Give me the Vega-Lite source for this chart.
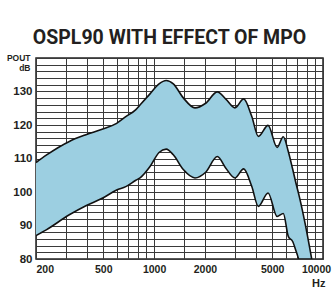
{
  "$schema": "https://vega.github.io/schema/vega-lite/v6.json",
  "width": 287,
  "height": 201,
  "autosize": "none",
  "padding": {"left": 36, "top": 58, "right": 11, "bottom": 32},
  "background": "white",
  "title": {
    "text": "OSPL90 WITH EFFECT OF MPO",
    "font": "Roboto",
    "fontSize": 19.5,
    "fontWeight": "bold",
    "color": "#231f20",
    "anchor": "middle",
    "dx": -10,
    "offset": 19,
    "dy": 29,
    "baseline": "alphabetic"
  },
  "config": {
    "view": {"stroke": "#222", "strokeWidth": 1.5},
    "axis": {
      "labelFont": "Liberation Sans",
      "labelFontWeight": "bold",
      "labelFontSize": 11,
      "labelColor": "#231f20",
      "titleFont": "Liberation Sans",
      "titleFontWeight": "bold",
      "titleColor": "#231f20",
      "ticks": false,
      "domain": false,
      "grid": true,
      "gridColor": "#3a3a3a",
      "gridOpacity": 1,
      "gridWidth": 1
    }
  },
  "data": {
    "values": [
      {"f": 200, "hi": 108.8, "lo": 87.0},
      {"f": 230, "hi": 111.0, "lo": 88.7},
      {"f": 315, "hi": 115.1, "lo": 93.2},
      {"f": 395, "hi": 117.1, "lo": 95.9},
      {"f": 497, "hi": 118.8, "lo": 98.2},
      {"f": 600, "hi": 120.5, "lo": 100.6},
      {"f": 680, "hi": 122.5, "lo": 101.6},
      {"f": 780, "hi": 124.6, "lo": 103.5},
      {"f": 830, "hi": 126.1, "lo": 104.3},
      {"f": 946, "hi": 129.3, "lo": 107.6},
      {"f": 1070, "hi": 132.3, "lo": 111.8},
      {"f": 1180, "hi": 133.3, "lo": 112.8},
      {"f": 1300, "hi": 132.3, "lo": 111.1},
      {"f": 1490, "hi": 128.1, "lo": 106.7},
      {"f": 1746, "hi": 125.1, "lo": 104.2},
      {"f": 2020, "hi": 126.5, "lo": 105.9},
      {"f": 2369, "hi": 129.9, "lo": 110.6},
      {"f": 2660, "hi": 127.7, "lo": 107.1},
      {"f": 3013, "hi": 125.1, "lo": 104.2},
      {"f": 3390, "hi": 127.8, "lo": 106.9},
      {"f": 3785, "hi": 122.6, "lo": 101.7},
      {"f": 4142, "hi": 116.6, "lo": 95.7},
      {"f": 4730, "hi": 119.9, "lo": 99.7},
      {"f": 5350, "hi": 113.3, "lo": 92.7},
      {"f": 5820, "hi": 116.5, "lo": 93.6},
      {"f": 6237, "hi": 112.0, "lo": 86.7},
      {"f": 6600, "hi": 107.0, "lo": 85.3},
      {"f": 6990, "hi": 101.7, "lo": 81.8},
      {"f": 7212, "hi": 99.0, "lo": 80},
      {"f": 7828, "hi": 90.7, "lo": 80},
      {"f": 8576, "hi": 80, "lo": 80}
    ]
  },
  "encoding": {
    "x": {
      "field": "f",
      "type": "quantitative",
      "scale": {"type": "log", "domain": [200, 10000], "nice": false},
      "axis": {
        "values": [200, 300, 400, 500, 600, 700, 800, 900, 1000, 1500, 2000, 3000, 4000, 5000, 6000, 7000, 8000, 9000, 10000],
        "format": "d",
        "labelExpr": "indexof([200,500,1000,2000,5000,10000], datum.value) >= 0 ? datum.label : ''",
        "labelAlign": {"expr": "datum.value == 200 ? 'left' : 'center'"},
        "labelOffset": {"expr": "datum.value == 10000 ? -7 : 0"},
        "labelPadding": 5,
        "labelFontSize": 10.5,
        "title": "Hz",
        "titleFontSize": 11,
        "titleAlign": "right",
        "titleBaseline": "alphabetic",
        "titleAnchor": "start",
        "titleX": 289,
        "titleY": 27
      }
    },
    "y": {
      "field": "hi",
      "type": "quantitative",
      "scale": {"domain": [80, 140], "nice": false, "zero": false},
      "axis": {
        "values": [80, 82, 84, 86, 88, 90, 92, 94, 96, 98, 100, 102, 104, 106, 108, 110, 112, 114, 116, 118, 120, 122, 124, 126, 128, 130, 132, 134, 136, 138, 140],
        "labelExpr": "datum.value % 10 == 0 && datum.value < 140 ? datum.label : ''",
        "labelPadding": 4,
        "labelFontSize": 11.5,
        "title": ["POUT", "dB"],
        "titleFontSize": 8.5,
        "titleAngle": 0,
        "titleAlign": "right",
        "titleBaseline": "alphabetic",
        "titleLineHeight": 10,
        "titleX": -6,
        "titleY": 2
      }
    }
  },
  "layer": [
    {
      "mark": {"type": "area", "interpolate": "monotone", "color": "#9ccfe1", "opacity": 1, "clip": true},
      "encoding": {"y2": {"field": "lo"}}
    },
    {
      "mark": {"type": "line", "interpolate": "monotone", "color": "#111", "strokeWidth": 1.6, "clip": true},
      "encoding": {}
    },
    {
      "mark": {"type": "line", "interpolate": "monotone", "color": "#111", "strokeWidth": 1.6, "clip": true},
      "encoding": {"y": {"field": "lo", "type": "quantitative"}}
    }
  ]
}
